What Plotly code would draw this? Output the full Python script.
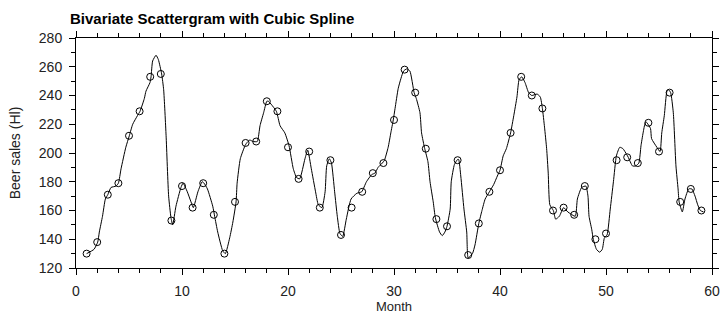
import plotly.graph_objects as go

# Observed data (month, beer sales in hl)
months = list(range(1, 60))
sales = [130, 138, 171, 179, 212, 229, 253, 255, 153, 177,
         162, 179, 157, 130, 166, 207, 208, 236, 229, 204,
         182, 201, 162, 195, 143, 162, 173, 186, 193, 223,
         258, 242, 203, 154, 149, 195, 129, 151, 173, 188,
         214, 253, 240, 231, 160, 162, 157, 177, 140, 144,
         195, 197, 193, 221, 201, 242, 166, 175, 160]

# Fitted cubic spline curve
curve_month = [1.0, 1.7, 2.05, 2.2, 2.5, 2.77, 3.0, 3.3, 3.77, 4.0, 4.25, 4.7, 5.03, 5.35, 5.8, 6.04,
               6.45, 6.6, 6.98, 7.08, 7.23, 7.55, 7.77, 8.08, 8.27, 8.5, 8.74, 8.96, 9.12, 9.43, 9.9,
               10.1, 10.5, 10.85, 11.07, 11.5, 11.9, 12.08, 12.4, 12.9, 13.08, 13.37, 13.84, 14.09,
               14.5, 14.8, 15.1, 15.2, 15.5, 15.94, 16.1, 16.4, 16.7, 17.1, 17.36, 17.7, 18.0, 18.15,
               18.9, 19.25, 19.7, 20.1, 20.5, 20.8, 21.1, 21.6, 21.86, 22.2, 22.6, 22.86, 23.2, 23.5,
               23.65, 23.9, 24.1, 24.4, 24.65, 24.9, 25.16, 25.5, 25.95, 26.5, 26.95, 27.4, 27.9,
               28.2, 28.5, 28.9, 29.1, 29.45, 29.7, 29.93, 30.1, 30.4, 30.66, 30.9, 31.2, 31.5, 31.9,
               32.1, 32.45, 32.6, 32.9, 33.2, 33.4, 33.7, 33.9, 34.3, 34.55, 34.8, 35.0, 35.3, 35.4,
               35.7, 36.0, 36.1, 36.3, 36.6, 36.86, 37.0, 37.4, 37.64, 38.0, 38.3, 38.6, 39.0, 39.4,
               39.75, 40.0, 40.3, 40.6, 41.0, 41.3, 41.6, 41.8, 42.05, 42.36, 42.7, 43.0, 43.5, 43.8,
               44.0, 44.2, 44.4, 44.55, 44.7, 45.03, 45.25, 45.6, 46.0, 46.4, 47.1, 47.3, 47.7, 48.1,
               48.3, 48.4, 48.65, 48.8, 49.1, 49.4, 49.65, 49.85, 50.1, 50.4, 50.7, 50.98, 51.3, 51.6,
               51.95, 52.1, 52.5, 52.8, 53.1, 53.3, 53.5, 53.7, 53.8, 54.2, 54.3, 54.8, 55.1, 55.26,
               55.5, 55.75, 55.9, 56.1, 56.35, 56.6, 56.8, 56.9, 57.2, 57.45, 57.8, 58.1, 58.4, 58.65,
               58.9, 59.2]
curve_sales = [130, 133, 138, 145, 156, 168, 171, 176, 177, 179, 189, 204, 212, 220, 226, 229,
               238, 243, 249, 253, 264, 268, 265, 255, 244, 212, 170, 155, 150, 163, 176,
               179, 173, 166, 162, 173, 180, 179, 175, 163, 156, 145, 132, 130,
               141, 152, 166, 179, 196, 205, 207, 209, 208, 208, 219, 228, 236, 236,
               229, 219, 214, 205, 189, 183, 182, 196, 202, 189, 173, 164, 162, 173,
               191, 196, 193, 173, 156, 144, 142, 154, 168, 172, 173, 180, 185,
               186, 190, 193, 195, 204, 214, 223, 231, 245, 252, 257, 258.5, 257, 242,
               238, 228, 214, 203, 194, 180, 166, 155, 145, 142.5, 145, 149, 161, 180,
               192, 195.5, 195.5, 184, 161, 145, 127, 130, 136, 151, 160, 168, 173, 178,
               184, 188, 198, 203, 214, 226, 239, 251, 253, 249, 242, 240, 241, 239,
               231, 218, 203, 186, 164, 160, 154, 156, 162, 159, 156, 168, 176, 177,
               170, 156, 147, 140, 133, 131, 133, 141, 143, 161, 180, 198, 204, 203,
               199, 197, 191, 191, 193, 205, 214, 221, 221.5, 217, 210, 204, 201, 214,
               226, 243, 244, 242, 228, 191, 175, 166, 159, 168, 175, 175, 170, 164,
               160, 159]

x_ticks = [0, 10, 20, 30, 40, 50, 60]
y_ticks = [120, 140, 160, 180, 200, 220, 240, 260, 280]

FONT = "Liberation Sans, Arial, sans-serif"

fig = go.Figure()
fig.add_trace(go.Scatter(
    x=curve_month, y=curve_sales, mode="lines",
    line=dict(color="black", width=1, shape="spline", smoothing=0.5),
    showlegend=False, hoverinfo="skip"))
fig.add_trace(go.Scatter(
    x=months, y=sales, mode="markers",
    marker=dict(symbol="circle-open", size=7, color="black", line=dict(width=1, color="black")),
    showlegend=False))

axis_common = dict(
    automargin=False,
    showgrid=False, zeroline=False, showline=True, linecolor="black", linewidth=1,
    mirror="allticks", ticks="outside", ticklen=6, tickwidth=1, tickcolor="black",
    tickfont=dict(family=FONT, size=14, color="#222"),
)

fig.update_xaxes(range=[0, 60], tickvals=x_ticks, ticklabelstandoff=4,
                 minor=dict(dtick=2, tick0=0, ticks="outside", ticklen=4, tickcolor="black"),
                 title=dict(text="Month", font=dict(family=FONT, size=13, color="#222"), standoff=4),
                 **axis_common)
fig.update_yaxes(range=[120, 280], tickvals=y_ticks, ticklabelstandoff=4,
                 minor=dict(dtick=10, tick0=120, ticks="outside", ticklen=4, tickcolor="black"),
                 title=dict(text="Beer sales (Hl)", font=dict(family=FONT, size=14, color="#222"), standoff=14),
                 **axis_common)

fig.update_layout(
    width=721, height=317,
    margin=dict(l=76, r=9, t=38, b=49),
    paper_bgcolor="white", plot_bgcolor="white",
    title=dict(text="<b>Bivariate Scattergram with Cubic Spline</b>", automargin=False,
               x=70 / 721, xanchor="left", y=1 - 19 / 317, yanchor="middle",
               font=dict(family=FONT, size=15, color="black")),
)

fig.write_html("out.html", config={"displayModeBar": False},
               post_script="document.body.style.margin='0';document.body.style.overflow='hidden';")
